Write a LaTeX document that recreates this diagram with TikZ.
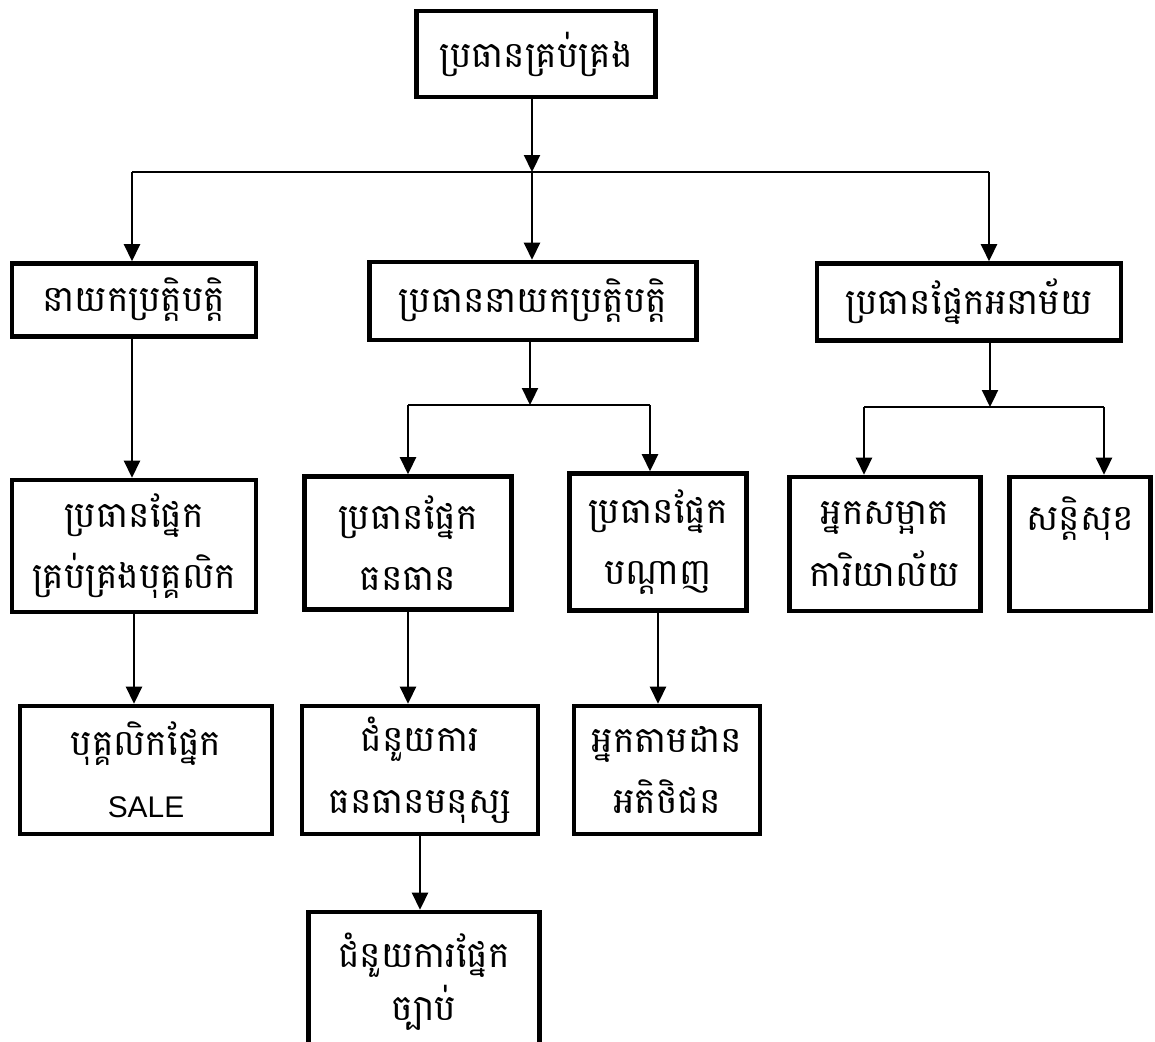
\documentclass[tikz,border=0pt]{standalone}
\usepackage{fontspec}
\setmainfont{Liberation Sans}
\newfontfamily\khmerfont[Script=Khmer]{Battambang}
\usetikzlibrary{arrows.meta}

\begin{document}
\begin{tikzpicture}[x=0.02cm,y=-0.02cm,
    box/.style={draw,line width=2.6pt,align=center,inner sep=0pt,
      font=\khmerfont\fontsize{20.5}{35}\selectfont},
    link/.style={line width=1.3pt},
    arr/.style={link,-{Triangle[length=3.4mm,width=3.2mm]}}]
    \useasboundingbox (0,0) rectangle (1155,1041);
    \clip (0,0) rectangle (1155,1041);
    % boxes
    \node[box,minimum width=4.78cm,minimum height=1.72cm] (boss) at (536,54) {ប្រធានគ្រប់គ្រង};
    \node[box,minimum width=4.88cm,minimum height=1.46cm] (exec) at (134,300) {នាយកប្រត្តិបត្តិ};
    \node[box,minimum width=6.54cm,minimum height=1.56cm] (chiefexec) at (533,301) {ប្រធាននាយកប្រត្តិបត្តិ};
    \node[box,minimum width=6.08cm,minimum height=1.54cm] (hygiene) at (969,302) {ប្រធានផ្នែកអនាម័យ};
    \node[box,minimum width=4.88cm,minimum height=2.64cm] (staffhead) at (134,546) {ប្រធានផ្នែក\\គ្រប់គ្រងបុគ្គលិក};
    \node[box,minimum width=4.14cm,minimum height=2.66cm] (hrhead) at (408,543) {ប្រធានផ្នែក\\ធនធាន};
    \node[box,minimum width=3.54cm,minimum height=2.74cm] (nethead) at (658,542) {ប្រធានផ្នែក\\បណ្ដាញ};
    \node[box,minimum width=3.82cm,minimum height=2.68cm] (cleaner) at (885,544) {អ្នកសម្អាត\\ការិយាល័យ};
    \node[box,minimum width=2.82cm,minimum height=2.68cm] (guard) at (1080,544) {សន្តិសុខ\\\mbox{}};
    \node[box,minimum width=5.04cm,minimum height=2.56cm] (sale) at (146,770) {បុគ្គលិកផ្នែក\\{\rmfamily\fontsize{17}{35}\selectfont SALE}};
    \node[box,minimum width=4.72cm,minimum height=2.56cm] (hrassist) at (420,770) {ជំនួយការ\\ធនធានមនុស្ស};
    \node[box,minimum width=3.72cm,minimum height=2.56cm] (tracker) at (667,770) {អ្នកតាមដាន\\អតិថិជន};
    \node[box,minimum width=4.62cm,minimum height=2.8cm,
      font=\khmerfont\fontsize{20.5}{30}\selectfont] (legal) at (424,982) {ជំនួយការផ្នែក\\ច្បាប់};
    % top level
    \coordinate (j0) at (532,172);
    \coordinate (j0l) at (132,172);
    \coordinate (j0r) at (989,172);
    \draw[arr] (boss.south -| j0) -- (j0);
    \draw[link] (j0l) -- (j0r);
    \draw[arr] (j0l) -- (j0l |- exec.north);
    \draw[arr] (j0) -- (j0 |- chiefexec.north);
    \draw[arr] (j0r) -- (j0r |- hygiene.north);
    % second level
    \coordinate (j1) at (530,405);
    \coordinate (j1l) at (408,405);
    \coordinate (j1r) at (650,405);
    \draw[arr] (chiefexec.south -| j1) -- (j1);
    \draw[link] (j1l) -- (j1r);
    \draw[arr] (j1l) -- (j1l |- hrhead.north);
    \draw[arr] (j1r) -- (j1r |- nethead.north);
    \coordinate (j2) at (990,407);
    \coordinate (j2l) at (864,407);
    \coordinate (j2r) at (1104,407);
    \draw[arr] (hygiene.south -| j2) -- (j2);
    \draw[link] (j2l) -- (j2r);
    \draw[arr] (j2l) -- (j2l |- cleaner.north);
    \draw[arr] (j2r) -- (j2r |- guard.north);
    \draw[arr] (exec.south -| j0l) -- (j0l |- staffhead.north);
    % lower levels
    \draw[arr] (staffhead.south) -- (staffhead.south |- sale.north);
    \draw[arr] (hrhead.south) -- (hrhead.south |- hrassist.north);
    \draw[arr] (nethead.south) -- (nethead.south |- tracker.north);
    \draw[arr] (hrassist.south) -- (hrassist.south |- legal.north);
\end{tikzpicture}
\end{document}
